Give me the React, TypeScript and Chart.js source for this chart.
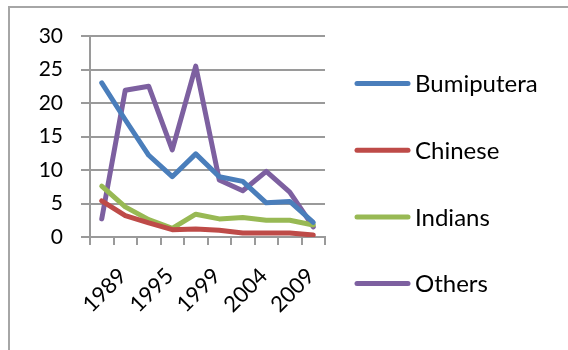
import React, { useEffect, useRef } from "react";
import { Chart, registerables } from "chart.js";

Chart.register(...registerables);

// Poverty incidence (%) by ethnic group
const years = ["1989", "1992", "1995", "1997", "1999", "2002", "2004", "2007", "2009", "2012"];
const bumiputera = [23.0, 17.5, 12.2, 9.0, 12.4, 9.0, 8.3, 5.1, 5.3, 2.2];
const chinese = [5.4, 3.2, 2.1, 1.1, 1.2, 1.0, 0.6, 0.6, 0.6, 0.3];
const indians = [7.6, 4.5, 2.6, 1.3, 3.4, 2.7, 2.9, 2.5, 2.5, 1.8];
const others = [2.7, 21.9, 22.5, 13.0, 25.5, 8.5, 6.9, 9.8, 6.7, 1.5];
const seriesNames = ["Bumiputera", "Chinese", "Indians", "Others"];
const seriesColors = ["#4A7EBB", "#BE4B48", "#98B954", "#7D60A0"];
const yMin = 0;
const yMax = 30;
const yStep = 5;

const FONT = "Lato, 'Open Sans', sans-serif";

const sideLegend = {
  id: "sideLegend",
  afterDraw(chart: any) {
    const ctx = chart.ctx;
    const x0 = chart.chartArea.right + 30;
    const lineLen = 55;
    const top = 83.5;
    const gap = 66.7;
    ctx.save();
    chart.data.datasets.forEach((ds: any, i: number) => {
      const y = top + i * gap;
      ctx.strokeStyle = ds.borderColor;
      ctx.lineWidth = 5;
      ctx.lineCap = "round";
      ctx.beginPath();
      ctx.moveTo(x0 + 2, y);
      ctx.lineTo(x0 + lineLen - 2, y);
      ctx.stroke();
      ctx.fillStyle = "#000";
      ctx.font = `24px ${FONT}`;
      ctx.textBaseline = "middle";
      ctx.textAlign = "left";
      ctx.fillText(ds.label, x0 + lineLen + 5, y + 1);
    });
    ctx.restore();
  },
};

export default function App() {
  const ref = useRef<HTMLCanvasElement | null>(null);

  useEffect(() => {
    if (!ref.current) return;
    const seriesData = [bumiputera, chinese, indians, others];
    const chart = new Chart(ref.current, {
      type: "line",
      data: {
        labels: years,
        datasets: seriesNames.map((name, i) => ({
          label: name,
          data: seriesData[i],
          borderColor: seriesColors[i],
          backgroundColor: seriesColors[i],
          borderWidth: 5,
          pointRadius: 0,
          borderJoinStyle: "round" as const,
          borderCapStyle: "round" as const,
          tension: 0,
        })),
      },
      options: {
        animation: false,
        responsive: false,
        devicePixelRatio: 1,
        layout: { padding: { top: 36, right: 243, bottom: 0, left: 0 } },
        plugins: {
          legend: { display: false },
          tooltip: { enabled: false },
        },
        scales: {
          x: {
            type: "category",
            offset: true,
            afterFit(scale: any) {
              scale.height = 113;
            },
            grid: {
              offset: true,
              drawOnChartArea: false,
              drawTicks: true,
              tickLength: 8,
              color: "#9a9a9a",
              lineWidth: 2,
            },
            border: { color: "#9a9a9a", width: 2 },
            ticks: {
              autoSkip: false,
              minRotation: 45,
              maxRotation: 45,
              labelOffset: 21,
              padding: 18,
              color: "#000",
              font: { family: FONT, size: 22 },
              callback: (_v: any, idx: number) => (idx % 2 === 0 ? years[idx] : ""),
            },
          },
          y: {
            min: yMin,
            max: yMax,
            afterFit(scale: any) {
              scale.width = 90;
            },
            grid: {
              color: "#9a9a9a",
              lineWidth: 2,
              tickLength: 9,
            },
            border: { color: "#9a9a9a", width: 2 },
            ticks: {
              stepSize: yStep,
              padding: 18,
              color: "#000",
              font: { family: FONT, size: 21 },
            },
          },
        },
      },
      plugins: [sideLegend],
    });
    return () => chart.destroy();
  }, []);

  return (
    <div style={{ position: "absolute", left: 0, top: 0, width: 568, height: 350, background: "#fff", overflow: "hidden" }}>
      <div
        style={{
          position: "absolute",
          left: 8,
          top: 6,
          width: 620,
          height: 400,
          borderLeft: "2px solid #a6a6a6",
          borderTop: "2px solid #a6a6a6",
        }}
      />
      <canvas ref={ref} width={568} height={350} style={{ position: "absolute", left: 0, top: 0, width: 568, height: 350 }} />
    </div>
  );
}
